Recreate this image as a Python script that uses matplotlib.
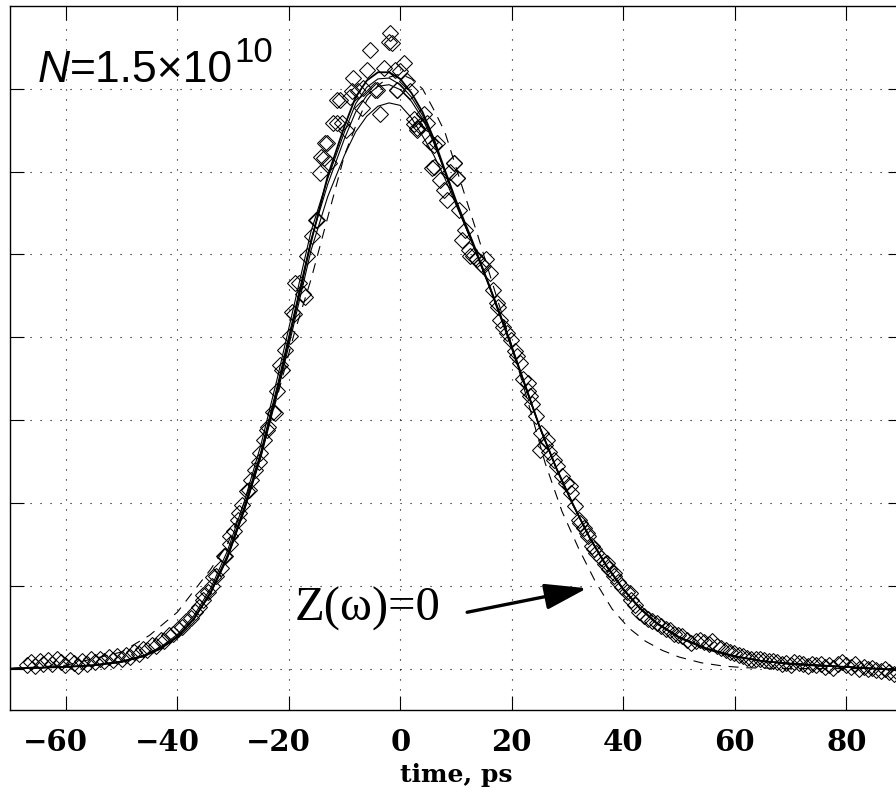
"""Streak-camera bunch profile at N=1.5e10: measured points (diamonds),
model curves (solid) and the Z(omega)=0 case (dashed)."""
import matplotlib
matplotlib.use("Agg")
import matplotlib.pyplot as plt
from matplotlib.transforms import ScaledTranslation

# measured profile (time in ps, arbitrary units)
t_meas = [
    -67.0, -66.3, -65.5, -64.7, -64.0, -63.2, -62.4, -61.6, -60.9, -60.1,
    -59.3, -58.5, -57.8, -57.0, -56.2, -55.4, -54.7, -53.9, -53.1, -52.3,
    -51.6, -50.8, -50.0, -49.2, -48.5, -47.7, -46.9, -46.1, -45.4, -44.6,
    -43.8, -43.0, -42.3, -41.5, -40.7, -39.9, -39.2, -38.4, -37.6, -36.8,
    -36.1, -35.3, -34.5, -33.7, -33.0, -32.2, -31.4, -30.6, -29.9, -29.1,
    -28.3, -27.5, -26.8, -26.0, -25.2, -24.4, -23.7, -22.9, -22.1, -21.3,
    -20.6, -19.8, -19.0, -18.2, -17.5, -16.7, -15.9, -15.1, -14.4, -13.6,
    -12.8, -12.0, -11.3, -10.5, -9.7, -9.0, -8.4, -7.5, -6.9, -6.0,
    -5.4, -4.5, -3.6, -3.0, -2.1, -1.5, -1.0, -0.5, 0.0, 0.6,
    1.2, 1.8, 2.4, 3.0, 3.6, 4.2, 4.8, 5.4, 6.0, 6.6,
    7.2, 7.8, 8.4, 9.0, 9.6, 10.2, 10.5, 11.1, 11.7, 12.3,
    13.0, 13.8, 14.5, 15.3, 16.1, 16.7, 17.3, 17.9, 18.5, 19.2,
    19.8, 20.6, 21.4, 22.1, 22.9, 23.6, 24.4, 25.2, 25.9, 26.7,
    27.5, 28.2, 29.0, 29.8, 30.6, 31.3, 32.1, 32.9, 33.7, 34.4,
    35.2, 36.0, 36.7, 37.5, 38.3, 39.1, 39.8, 40.6, 41.4, 42.1,
    42.9, 43.7, 44.5, 45.2, 46.0, 46.8, 47.6, 48.3, 49.1, 49.9,
    50.6, 51.4, 52.2, 53.0, 53.7, 54.5, 55.3, 56.0, 56.8, 57.6,
    58.4, 59.1, 59.9, 60.7, 61.5, 62.2, 63.0, 63.8, 64.5, 65.3,
    66.1, 66.9, 67.6, 68.4, 69.2, 70.0, 70.7, 71.5, 72.3, 73.1,
    73.8, 74.6, 75.4, 76.1, 76.9, 77.7, 78.5, 79.2, 80.0, 80.8,
    81.5, 82.3, 83.1, 83.9, 84.6, 85.4, 86.2, 87.0, 87.7, 88.5,
    89.3,
    # second pass over the steep part of the pulse
    -22.4, -23.9, -25.4, -27.2, -29.0, -30.5, -31.7, -33.5, -35.3, -21.5,
    -19.4, -17.0, -18.8, -14.9, -14.3, -13.5, -13.1, -11.4, -10.8, -8.7,
    -6.6, -4.2, -1.8, -0.6, 2.4, 3.0, 5.7, 6.0, 9.6, 10.2,
    12.6, 14.9, 17.6, 20.9, 23.0, 23.3, 26.3, 25.1, 30.5, 32.3,
    33.5, 34.7, 37.1, 38.3, 41.3,
]
y_meas = [
    0.004, 0.008, 0.003, 0.009, 0.006, 0.010, 0.005, 0.012, 0.008, 0.004,
    0.010, 0.007, 0.003, 0.009, 0.006, 0.011, 0.008, 0.012, 0.009, 0.014,
    0.010, 0.015, 0.012, 0.017, 0.014, 0.020, 0.018, 0.024, 0.022, 0.028,
    0.027, 0.034, 0.033, 0.040, 0.042, 0.048, 0.050, 0.057, 0.061, 0.068,
    0.074, 0.083, 0.092, 0.100, 0.112, 0.122, 0.136, 0.150, 0.166, 0.180,
    0.198, 0.214, 0.228, 0.240, 0.260, 0.276, 0.292, 0.310, 0.335, 0.360,
    0.385, 0.402, 0.428, 0.466, 0.452, 0.498, 0.522, 0.542, 0.598, 0.616,
    0.611, 0.659, 0.687, 0.659, 0.650, 0.690, 0.713, 0.697, 0.677, 0.723,
    0.747, 0.699, 0.669, 0.725, 0.757, 0.755, 0.723, 0.699, 0.721, 0.731,
    0.709, 0.697, 0.663, 0.650, 0.655, 0.669, 0.659, 0.636, 0.606, 0.635,
    0.590, 0.578, 0.566, 0.600, 0.610, 0.592, 0.554, 0.518, 0.530, 0.506,
    0.498, 0.494, 0.488, 0.494, 0.478, 0.457, 0.441, 0.421, 0.413, 0.405,
    0.397, 0.383, 0.369, 0.350, 0.335, 0.320, 0.305, 0.284, 0.270, 0.262,
    0.252, 0.244, 0.232, 0.224, 0.212, 0.196, 0.180, 0.170, 0.160, 0.148,
    0.140, 0.133, 0.126, 0.120, 0.112, 0.104, 0.098, 0.092, 0.083, 0.077,
    0.068, 0.063, 0.060, 0.057, 0.055, 0.052, 0.048, 0.046, 0.042, 0.040,
    0.039, 0.034, 0.031, 0.033, 0.035, 0.032, 0.030, 0.033, 0.027, 0.025,
    0.023, 0.020, 0.019, 0.017, 0.015, 0.013, 0.012, 0.011, 0.011, 0.010,
    0.009, 0.009, 0.008, 0.006, 0.007, 0.004, 0.008, 0.007, 0.006, 0.003,
    0.005, 0.004, 0.006, 0.002, 0.004, 0.001, 0.005, 0.008, 0.004, 0.002,
    0.005, 0.000, 0.002, -0.001, 0.001, -0.002, -0.003, -0.001, -0.004, -0.006,
    -0.005,
    0.309, 0.288, 0.250, 0.216, 0.188, 0.160, 0.136, 0.111, 0.089, 0.367,
    0.431, 0.449, 0.466, 0.542, 0.618, 0.634, 0.634, 0.659, 0.687, 0.697,
    0.701, 0.699, 0.767, 0.699, 0.657, 0.653, 0.604, 0.632, 0.610, 0.592,
    0.498, 0.486, 0.437, 0.377, 0.345, 0.329, 0.276, 0.264, 0.220, 0.176,
    0.164, 0.144, 0.128, 0.115, 0.091,
]

# model curves, sampled on a common time grid
t_fit = [-70, -65, -60, -55, -50, -46, -43, -40, -37, -34, -31, -28, -25,
         -22, -19, -16, -13, -10, -8, -6, -4, -2, 0, 2, 4, 6, 8, 10, 13,
         16, 19, 22, 25, 28, 31, 34, 37, 40, 43, 46, 50, 55, 60, 65, 70,
         75, 80, 85, 90]
fit_a = [0.000, 0.001, 0.002, 0.004, 0.008, 0.015, 0.024, 0.038, 0.060,
         0.092, 0.135, 0.192, 0.258, 0.338, 0.425, 0.515, 0.595, 0.655,
         0.690, 0.710, 0.720, 0.720, 0.712, 0.695, 0.672, 0.640, 0.602,
         0.565, 0.515, 0.462, 0.408, 0.350, 0.292, 0.242, 0.198, 0.158,
         0.124, 0.096, 0.073, 0.055, 0.038, 0.024, 0.015, 0.009, 0.006,
         0.004, 0.002, 0.000, -0.002]
fit_b = [0.000, 0.001, 0.002, 0.004, 0.009, 0.016, 0.026, 0.041, 0.064,
         0.097, 0.142, 0.201, 0.270, 0.352, 0.440, 0.528, 0.592, 0.648,
         0.682, 0.702, 0.712, 0.713, 0.705, 0.690, 0.668, 0.637, 0.600,
         0.562, 0.512, 0.460, 0.405, 0.348, 0.291, 0.241, 0.197, 0.157,
         0.123, 0.095, 0.072, 0.054, 0.037, 0.023, 0.014, 0.009, 0.005,
         0.003, 0.002, 0.000, -0.002]
fit_c = [0.000, 0.001, 0.002, 0.004, 0.008, 0.015, 0.025, 0.039, 0.061,
         0.093, 0.137, 0.195, 0.262, 0.343, 0.430, 0.518, 0.585, 0.640,
         0.672, 0.692, 0.703, 0.705, 0.699, 0.685, 0.664, 0.635, 0.600,
         0.563, 0.513, 0.461, 0.407, 0.349, 0.292, 0.242, 0.198, 0.158,
         0.124, 0.096, 0.073, 0.055, 0.038, 0.024, 0.015, 0.009, 0.006,
         0.004, 0.002, 0.000, -0.002]
fit_d = [0.000, 0.001, 0.002, 0.004, 0.008, 0.015, 0.024, 0.038, 0.060,
         0.091, 0.133, 0.190, 0.255, 0.333, 0.418, 0.505, 0.570, 0.620,
         0.648, 0.667, 0.679, 0.683, 0.680, 0.665, 0.643, 0.620, 0.592,
         0.560, 0.513, 0.462, 0.408, 0.350, 0.292, 0.242, 0.198, 0.158,
         0.124, 0.096, 0.073, 0.055, 0.038, 0.024, 0.015, 0.009, 0.006,
         0.004, 0.002, 0.000, -0.002]

# Z(omega)=0 curve
t_z0 = [-70, -60, -50, -45, -40, -37, -34, -31, -28, -25, -22, -19, -16,
        -13, -10, -8, -6, -4, -2, 0, 2, 4, 6, 8, 11, 14, 17, 20, 23, 26,
        29, 32, 35, 38, 41, 44, 47, 50, 54, 58, 62, 70, 80, 90]
y_z0 = [0.000, 0.004, 0.020, 0.040, 0.068, 0.094, 0.120, 0.150, 0.200,
        0.260, 0.330, 0.405, 0.470, 0.545, 0.620, 0.655, 0.686, 0.704,
        0.714, 0.718, 0.712, 0.700, 0.675, 0.648, 0.584, 0.521, 0.455,
        0.390, 0.320, 0.248, 0.190, 0.145, 0.105, 0.072, 0.049, 0.033,
        0.022, 0.014, 0.007, 0.003, 0.001, 0.000, 0.000, 0.000]

x_ticks = [-60, -40, -20, 0, 20, 40, 60, 80]
y_ticks = [0.0, 0.1, 0.2, 0.3, 0.4, 0.5, 0.6, 0.7]

W, H = 896, 795
fig = plt.figure(figsize=(W / 100, H / 100), dpi=100)
# right spine sits just past the image edge, as in the original crop
ax = fig.add_axes([10 / W, 85 / H, 892 / W, 704 / H])

ax.plot(t_fit, fit_d, "-", color="k", lw=0.8)
ax.plot(t_fit, fit_c, "-", color="k", lw=0.8)
ax.plot(t_fit, fit_b, "-", color="k", lw=0.8)
ax.plot(t_fit, fit_a, "-", color="k", lw=1.3)
ax.plot(t_z0, y_z0, color="k", lw=0.8, dashes=(9, 7))
ax.plot(t_meas, y_meas, "D", mfc="none", mec="k", ms=8.3, mew=0.75)

ax.set_xlim(-70, 90)
ax.set_ylim(-0.05, 0.8)
ax.set_xticks(x_ticks)
ax.set_yticks(y_ticks)
ax.set_yticklabels([])
ax.grid(True, color="k", lw=0.8, linestyle=(0, (1, 8)))
ax.tick_params(direction="in", top=True, right=True, length=10, width=0.8,
               pad=13)
# MATLAB-style labels: digits centred on the tick, minus sign hanging left
shift_left = ScaledTranslation(-10 / 100, 0, fig.dpi_scale_trans)
for val, lab in zip(x_ticks, ax.get_xticklabels()):
    lab.set_fontfamily("DejaVu Serif")
    lab.set_fontweight("bold")
    lab.set_fontsize(21)
    if val < 0:
        lab.set_transform(lab.get_transform() + shift_left)
for sp in ax.spines.values():
    sp.set_linewidth(1.0)
ax.set_xlabel("time, ps", fontfamily="DejaVu Serif", fontweight="bold",
              fontsize=18, labelpad=4)

# N = 1.5x10^10 label, built from pieces so N is italic
t_n = ax.text(-65.1, 0.708, "N", fontfamily="Liberation Sans",
              style="italic", fontsize=32, va="baseline")
t_eq = ax.annotate("=1.5\u00d710", xy=(1, 0), xycoords=t_n, va="bottom",
                   fontfamily="Liberation Sans", fontsize=32)
ax.annotate("10", xy=(1, 1), xycoords=t_eq, va="top", ha="left",
            xytext=(1, 10), textcoords="offset points",
            fontfamily="Liberation Sans", fontsize=25)

ax.text(-19.0, 0.058, "Z(\u03c9)=0", fontfamily="Liberation Serif",
        fontsize=35, va="baseline")
ax.annotate("", xy=(33.5, 0.097), xytext=(12.0, 0.068),
            arrowprops=dict(arrowstyle="-|>,head_length=2.6,head_width=0.8",
                            color="k", lw=2.4, shrinkA=0, shrinkB=0))

fig.savefig("out.png", dpi=100)
plt.close(fig)
